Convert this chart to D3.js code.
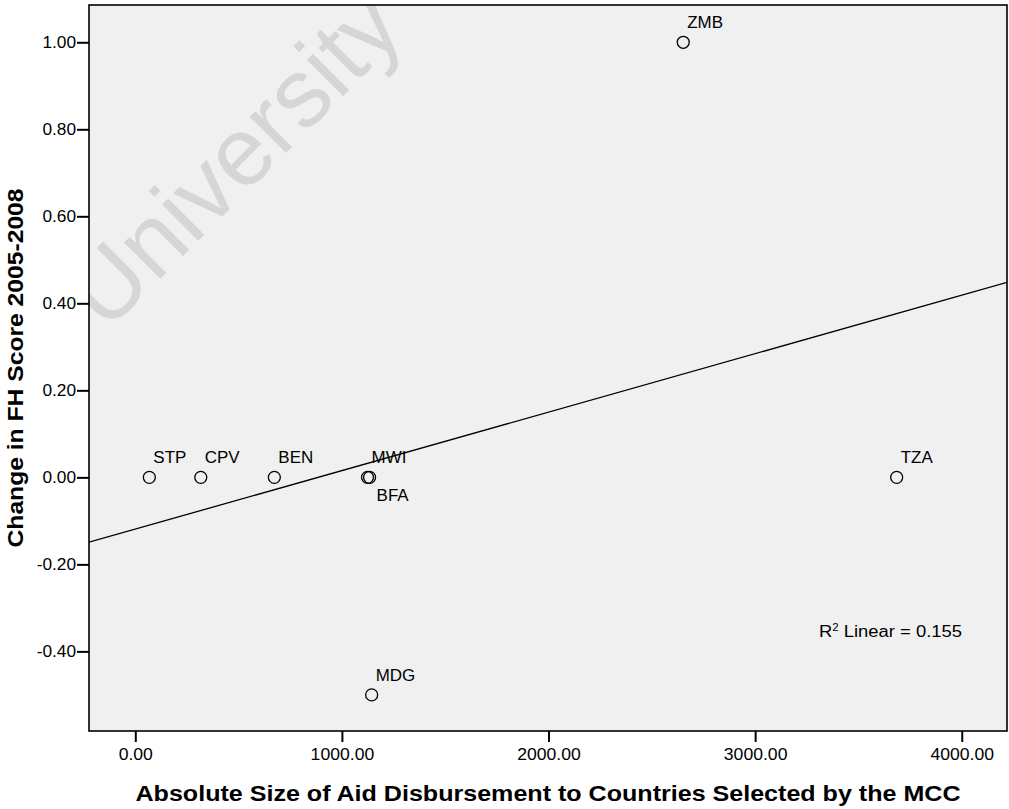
<!DOCTYPE html>
<html>
<head>
<meta charset="utf-8">
<script src="https://cdn.jsdelivr.net/npm/d3@7"></script>
<style>
  body { margin: 0; background: #fff; }
  text { font-family: "Liberation Sans", Arial, sans-serif; fill: #000; }
</style>
</head>
<body>
<div id="chartArea"></div>
<script>
// data
const countries = ["STP", "CPV", "BEN", "MWI", "BFA", "MDG", "ZMB", "TZA"];
const aidSize = [68, 317, 673, 1124, 1134, 1144, 2652, 3685];
const fhChange = [0, 0, 0, 0, 0, -0.5, 1, 0];
const xTicks = [0, 1000, 2000, 3000, 4000];
const yTicks = [-0.4, -0.2, 0, 0.2, 0.4, 0.6, 0.8, 1.0];
const rSquaredText = "0.155";

const width = 1009, height = 809;
const plot = { left: 89, top: 5, right: 1007, bottom: 731 };

const svg = d3.select("#chartArea")
              .append("svg")
              .attr("width", width)
              .attr("height", height);

const xScale = d3.scaleLinear()
                 .domain([-224, 4219])
                 .range([plot.left, plot.right]);
const yScale = d3.scaleLinear()
                 .domain([-0.583, 1.0857])
                 .range([plot.bottom, plot.top]); // reversed so y grows upwards

// plain hyphen for negatives, like the original
const fmt = d3.formatLocale({ decimal: ".", thousands: "", grouping: [3], currency: ["", ""], minus: "-" }).format(".2f");

// slight horizontal stretch like the original export
function stretch(sel, k) {
    sel.each(function () {
        const w = this.getComputedTextLength();
        d3.select(this).attr("textLength", w * k).attr("lengthAdjust", "spacingAndGlyphs");
    });
}

svg.append("defs").append("clipPath")
   .attr("id", "plotClip")
   .append("rect")
   .attr("x", plot.left).attr("y", plot.top)
   .attr("width", plot.right - plot.left)
   .attr("height", plot.bottom - plot.top);

svg.append("rect")
   .attr("x", plot.left).attr("y", plot.top)
   .attr("width", plot.right - plot.left)
   .attr("height", plot.bottom - plot.top)
   .attr("fill", "#f0f0f0");

// watermark
svg.append("g")
   .attr("clip-path", "url(#plotClip)")
   .append("text")
   .attr("transform", "translate(106,333) rotate(-45)")
   .style("font-size", "97px")
   .style("fill", "#d6d6d6")
   .text("University");

// fit line (least squares from the points)
const mx = d3.mean(aidSize), my = d3.mean(fhChange);
const sxy = d3.sum(aidSize, (d, i) => (d - mx) * (fhChange[i] - my));
const sxx = d3.sum(aidSize, d => (d - mx) * (d - mx));
const slope = sxy / sxx;
const intercept = my - slope * mx;
const xd = xScale.domain();

svg.append("g")
   .attr("clip-path", "url(#plotClip)")
   .append("path")
   .attr("d", d3.line()
                .x(d => xScale(d))
                .y(d => yScale(intercept + slope * d))(xd))
   .attr("stroke", "#000")
   .attr("stroke-width", 1.3)
   .attr("fill", "none");

// points
const pts = countries.map((c, i) => ({ name: c, x: aidSize[i], y: fhChange[i] }));

svg.append("g")
   .selectAll("circle")
   .data(pts)
   .join("circle")
   .attr("cx", d => xScale(d.x))
   .attr("cy", d => yScale(d.y))
   .attr("r", 6)
   .attr("fill", "none")
   .attr("stroke", "#000")
   .attr("stroke-width", 1.3);

const labels = svg.append("g")
   .selectAll("text")
   .data(pts)
   .join("text")
   .attr("x", d => xScale(d.x) + (d.name === "BFA" ? 7 : 4))
   .attr("y", d => yScale(d.y) + (d.name === "BFA" ? 24 : -14))
   .style("font-size", "16px")
   .text(d => d.name);
stretch(labels, 1.06);

// axes
const yAxis = d3.axisLeft(yScale)
                .tickValues(yTicks)
                .tickSize(12)
                .tickPadding(1)
                .tickFormat(fmt);
const yAxisGroup = svg.append("g")
                      .attr("transform", `translate(${plot.left},0)`)
                      .call(yAxis);
yAxisGroup.select(".domain").remove();
yAxisGroup.selectAll("line").attr("stroke", "#000").attr("stroke-width", 2);
yAxisGroup.selectAll("text")
          .style("font-size", "16px")
          .call(stretch, 1.08);

const xAxis = d3.axisBottom(xScale)
                .tickValues(xTicks)
                .tickSize(11)
                .tickPadding(7)
                .tickFormat(fmt);
const xAxisGroup = svg.append("g")
                      .attr("transform", `translate(0,${plot.bottom})`)
                      .call(xAxis);
xAxisGroup.select(".domain").remove();
xAxisGroup.selectAll("line").attr("stroke", "#000").attr("stroke-width", 2);
xAxisGroup.selectAll("text")
          .style("font-size", "16px")
          .call(stretch, 1.1);

// frame
svg.append("rect")
   .attr("x", plot.left).attr("y", plot.top)
   .attr("width", plot.right - plot.left)
   .attr("height", plot.bottom - plot.top)
   .attr("fill", "none")
   .attr("stroke", "#000")
   .attr("stroke-width", 1.6);

// R squared note
const rText = svg.append("text")
                 .attr("x", 819)
                 .attr("y", 637)
                 .style("font-size", "16px");
rText.append("tspan").text("R");
rText.append("tspan").attr("dy", -6).style("font-size", "10px").text("2");
rText.append("tspan").attr("dy", 6).text(" Linear = " + rSquaredText);
rText.attr("textLength", 143).attr("lengthAdjust", "spacingAndGlyphs");

// axis titles
svg.append("text")
   .attr("x", (plot.left + plot.right) / 2)
   .attr("y", 801)
   .attr("text-anchor", "middle")
   .style("font-size", "22px")
   .style("font-weight", "700")
   .attr("textLength", 825)
   .attr("lengthAdjust", "spacingAndGlyphs")
   .text("Absolute Size of Aid Disbursement to Countries Selected by the MCC");

svg.append("text")
   .attr("transform", `translate(23,${(plot.top + plot.bottom) / 2}) rotate(-90)`)
   .attr("text-anchor", "middle")
   .style("font-size", "22px")
   .style("font-weight", "700")
   .attr("textLength", 359)
   .attr("lengthAdjust", "spacingAndGlyphs")
   .text("Change in FH Score 2005-2008");
</script>
</body>
</html>
